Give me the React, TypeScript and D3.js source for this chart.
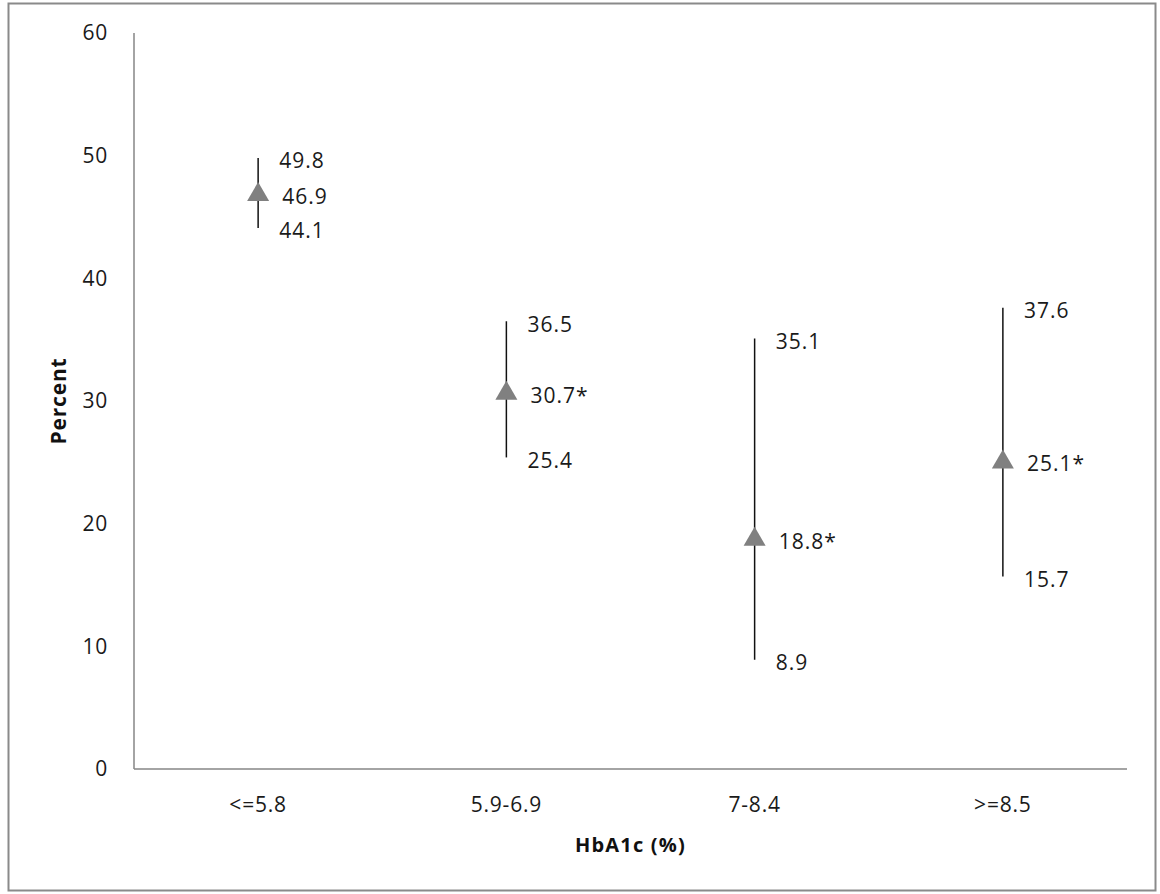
import React from "react";
import * as d3 from "d3";

const categories = ["<=5.8", "5.9-6.9", "7-8.4", ">=8.5"];
const estimates = [46.9, 30.7, 18.8, 25.1];
const lowerCI = [44.1, 25.4, 8.9, 15.7];
const upperCI = [49.8, 36.5, 35.1, 37.6];
const significant = [false, true, true, true];
const yTicks = [0, 10, 20, 30, 40, 50, 60];

const W = 1160;
const H = 894;
const plot = { left: 134, right: 1127, top: 33, bottom: 769 };
const FONT = "'Open Sans', 'DejaVu Sans', sans-serif";

export default function App() {
  const x = d3
    .scaleBand<string>()
    .domain(categories)
    .range([plot.left, plot.right])
    .paddingInner(0)
    .paddingOuter(0);
  const y = d3.scaleLinear().domain([0, 60]).range([plot.bottom, plot.top]);
  const tri = d3.symbol().type(d3.symbolTriangle).size(210);

  const cx = (c: string) => (x(c) as number) + x.bandwidth() / 2;

  return (
    <svg
      width={W}
      height={H}
      style={{ position: "absolute", left: 0, top: 0, background: "#fff" }}
      fontFamily={FONT}
    >
      <rect x={0} y={0} width={W} height={H} fill="#fff" />
      <rect
        x={8.5}
        y={3.5}
        width={1147}
        height={887}
        fill="none"
        stroke="#8a8a8a"
        strokeWidth={2}
      />
      {/* axes */}
      <line
        x1={plot.left}
        x2={plot.left}
        y1={plot.top}
        y2={plot.bottom}
        stroke="#868686"
        strokeWidth={1.5}
      />
      <line
        x1={plot.left}
        x2={plot.right}
        y1={plot.bottom}
        y2={plot.bottom}
        stroke="#868686"
        strokeWidth={1.5}
      />
      {yTicks.map((t) => (
        <text
          key={t}
          x={108}
          y={y(t)}
          dy="0.35em"
          textAnchor="end"
          fontSize={21}
          letterSpacing={0.8}
          fill="#1a1a1a"
        >
          {t}
        </text>
      ))}
      {categories.map((c) => (
        <text
          key={c}
          x={cx(c)}
          y={805}
          dy="0.35em"
          textAnchor="middle"
          fontSize={21}
          letterSpacing={0.8}
          fill="#1a1a1a"
        >
          {c}
        </text>
      ))}
      {/* axis titles */}
      <text
        transform={`translate(59,401) rotate(-90)`}
        textAnchor="middle"
        dy="0.35em"
        fontSize={21}
        fontWeight="bold"
        letterSpacing={0.8}
        fill="#111"
      >
        Percent
      </text>
      <text
        x={(plot.left + plot.right) / 2}
        y={845}
        dy="0.35em"
        textAnchor="middle"
        fontSize={20}
        fontWeight="bold"
        letterSpacing={1.2}
        fill="#111"
      >
        HbA1c (%)
      </text>
      {/* error bars and markers */}
      {categories.map((c, i) => {
        const px = cx(c);
        return (
          <g key={c}>
            <line
              x1={px}
              x2={px}
              y1={y(lowerCI[i])}
              y2={y(upperCI[i])}
              stroke="#111"
              strokeWidth={1.5}
            />
            <path
              d={tri() as string}
              transform={`translate(${px},${y(estimates[i]) + 1})`}
              fill="#808080"
            />
            <text
              x={px + 21}
              y={y(upperCI[i]) + 3}
              dy="0.35em"
              fontSize={21}
              letterSpacing={1}
              fill="#1a1a1a"
            >
              {upperCI[i].toFixed(1)}
            </text>
            <text
              x={px + 24}
              y={y(estimates[i]) + 3}
              dy="0.35em"
              fontSize={21}
              letterSpacing={1}
              fill="#1a1a1a"
            >
              {estimates[i].toFixed(1) + (significant[i] ? "*" : "")}
            </text>
            <text
              x={px + 21}
              y={y(lowerCI[i]) + 3}
              dy="0.35em"
              fontSize={21}
              letterSpacing={1}
              fill="#1a1a1a"
            >
              {lowerCI[i].toFixed(1)}
            </text>
          </g>
        );
      })}
    </svg>
  );
}
